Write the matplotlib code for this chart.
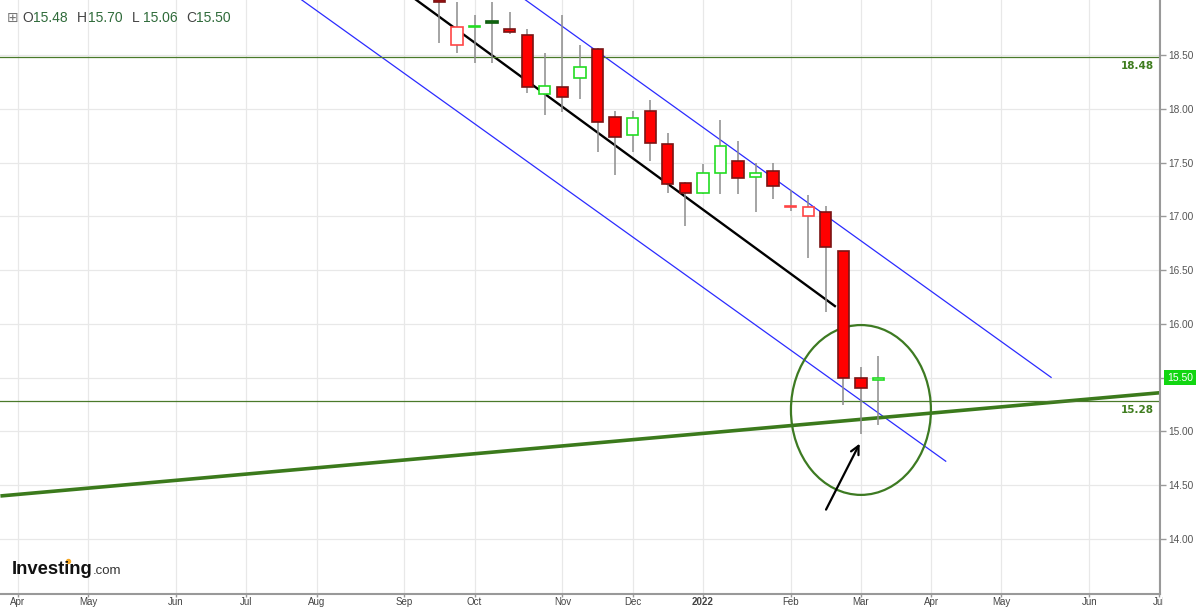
import numpy as np
import pandas as pd
import matplotlib
matplotlib.use("Agg")
import matplotlib.pyplot as plt
import matplotlib.dates as mdates
from matplotlib.patches import Ellipse, Circle
from matplotlib.transforms import Bbox, TransformedBbox, blended_transform_factory

plt.rcParams["font.family"] = ["Liberation Sans", "DejaVu Sans"]

# weekly candles (week start, Sunday)
weeks = pd.to_datetime([
    "2021-09-19", "2021-09-26", "2021-10-03", "2021-10-10", "2021-10-17",
    "2021-10-24", "2021-10-31", "2021-11-07", "2021-11-14", "2021-11-21",
    "2021-11-28", "2021-12-05", "2021-12-12", "2021-12-19", "2021-12-26",
    "2022-01-02", "2022-01-09", "2022-01-16", "2022-01-23", "2022-01-30",
    "2022-02-06", "2022-02-13", "2022-02-20", "2022-02-27", "2022-03-06",
    "2022-03-13"])
opens = [19.01, 18.60, 18.76, 18.82, 18.74, 18.69, 18.14, 18.20, 18.29, 18.56,
         17.93, 17.76, 17.98, 17.67, 17.31, 17.22, 17.40, 17.52, 17.37, 17.42,
         17.09, 17.00, 17.04, 16.68, 15.50, 15.48]
highs = [19.10, 19.00, 18.87, 19.00, 18.90, 18.74, 18.52, 18.87, 18.60, 18.57,
         17.98, 17.98, 18.08, 17.78, 17.32, 17.49, 17.90, 17.70, 17.50, 17.50,
         17.25, 17.20, 17.10, 16.68, 15.60, 15.70]
lows = [18.61, 18.52, 18.43, 18.43, 18.70, 18.15, 17.94, 17.97, 18.09, 17.60,
        17.39, 17.60, 17.52, 17.22, 16.91, 17.21, 17.21, 17.21, 17.04, 17.16,
        17.05, 16.61, 16.11, 15.25, 14.98, 15.06]
closes = [19.00, 18.76, 18.77, 18.80, 18.72, 18.20, 18.21, 18.11, 18.39, 17.88,
          17.74, 17.92, 17.68, 17.30, 17.22, 17.40, 17.66, 17.36, 17.40, 17.28,
          17.10, 17.09, 16.72, 15.50, 15.40, 15.50]
prev_close_first = 19.20

# drawn objects
black_trend = (["2021-09-03", "2022-02-24"], [19.13, 16.16])
blue_upper = (["2021-10-17", "2022-05-21"], [19.12, 15.50])
blue_lower = (["2021-07-21", "2022-04-09"], [19.10, 14.72])
green_support = (["2021-03-28", "2022-07-03"], [14.40, 15.36])
hlines = [18.48, 15.28]
circle_center = ("2022-03-06", 15.20)
circle_size = (55.8, 1.58)  # days, price
arrow_tail = ("2022-02-19 14:00", 14.25)
arrow_head = ("2022-03-06", 14.91)
last_price = 15.50

dn = mdates.date2num

fig = plt.figure(figsize=(12, 6.07), dpi=100)
ax = fig.add_axes([0, 13 / 607, 1160 / 1200, 594 / 607])
ax.set_xlim(dn(pd.Timestamp("2021-03-27 20:00")), dn(pd.Timestamp("2022-07-03 05:00")))
ax.set_ylim(13.488, 19.014)

# candles
x = dn(weeks)
o = np.array(opens)
c = np.array(closes)
prev = np.concatenate([[prev_close_first], c[:-1]])
up = c >= prev
filled = c < o
face = []
edge = []
for u, f in zip(up, filled):
    if f:
        face.append("#1a9a1a" if u else "#ff0000")
        edge.append("#0d5a0d" if u else "#7a1414")
    else:
        face.append("white")
        edge.append("#22dd22" if u else "#ff4545")
ax.vlines(x, lows, highs, color="#8c8c8c", lw=1.1, zorder=3)
height = np.maximum(np.abs(c - o), 0.012)
ax.bar(x, height, bottom=np.minimum(o, c), width=4.5, color=face,
       edgecolor=edge, linewidth=1.2, zorder=4)

# trend lines
for (d, p), col, lw in [(black_trend, "black", 1.7),
                        (blue_upper, "#2b2bff", 0.9),
                        (blue_lower, "#2b2bff", 0.9),
                        (green_support, "#3b7a1c", 2.6)]:
    ax.plot(dn(pd.to_datetime(d)), p, color=col, lw=lw, zorder=2,
            solid_capstyle="butt")

trans = blended_transform_factory(ax.transAxes, ax.transData)
for h in hlines:
    ax.axhline(h, color="#4a7a2a", lw=0.9, zorder=2)
    ax.text(0.995, h - 0.035, f"{h:.2f}", transform=trans, ha="right", va="top",
            color="#3f7d1f", fontsize=7.5, fontweight="bold",
            family="DejaVu Sans")

ell = Ellipse((dn(pd.Timestamp(circle_center[0])), circle_center[1]),
              circle_size[0], circle_size[1], fill=False,
              edgecolor="#3d7a22", lw=1.6, zorder=2)
ax.add_patch(ell)

ax.annotate("", xy=(dn(pd.Timestamp(arrow_head[0])), arrow_head[1]),
            xytext=(dn(pd.Timestamp(arrow_tail[0])), arrow_tail[1]),
            arrowprops=dict(arrowstyle="->,head_length=0.6,head_width=0.3",
                            color="black", lw=1.6), zorder=5)

# axes styling
sundays = pd.date_range("2021-04-01", "2022-07-31", freq="W-SUN")
firsts = sundays[sundays.day <= 7]
ax.set_xticks(dn(firsts))
labels = ax.set_xticklabels([str(d.year) if d.month == 1 else d.strftime("%b")
                             for d in firsts])
clip = TransformedBbox(Bbox([[0, 0], [1163 / 1200, 1]]), fig.transFigure)
for lab, d in zip(labels, firsts):
    lab.set_clip_on(True)
    lab.set_clip_box(clip)
    if d.month == 1:
        lab.set_fontweight("bold")

ax.yaxis.tick_right()
ax.set_yticks(np.arange(14.0, 18.51, 0.5))
ax.set_yticklabels([f"{v:.2f}" for v in np.arange(14.0, 18.51, 0.5)])
ax.tick_params(axis="y", direction="out", length=4, width=1, color="#999999",
               labelcolor="#555555", labelsize=7.3, pad=2)
ax.tick_params(axis="x", direction="out", length=2.5, width=1, color="#999999",
               labelcolor="#444444", labelsize=7, pad=0)
for s in ["top", "left"]:
    ax.spines[s].set_visible(False)
for s in ["right", "bottom"]:
    ax.spines[s].set_color("#999999")
    ax.spines[s].set_linewidth(1.5)
ax.grid(True, color="#e8e8e8", lw=0.9)
ax.set_axisbelow(True)

# last price tag
ax.text(1.006, last_price, f"{last_price:.2f}", transform=trans, ha="left",
        va="center", color="white", fontsize=7.5, zorder=6, clip_on=False,
        bbox=dict(boxstyle="square,pad=0.25", fc="#11d611", ec="none"))

# header
hy = (607 - 18) / 607
fig.text(7 / 1200, hy, "\u229e", color="#777777", fontsize=10, va="center",
         family="DejaVu Sans")
for xl, xv, letter, val in [(22, 33, "O", opens[-1]), (77, 88, "H", highs[-1]),
                            (132, 143, "L", lows[-1]), (186, 196, "C", closes[-1])]:
    fig.text(xl / 1200, hy, letter, color="#444444", fontsize=10, va="center")
    fig.text(xv / 1200, hy, f"{val:.2f}", color="#2f6b3a", fontsize=10, va="center")

# logo
fig.text(12 / 1200, (607 - 574) / 607, "Investing", fontsize=13.3,
         fontweight="bold", color="#111111", va="baseline")
fig.text(93 / 1200, (607 - 574) / 607, ".com", fontsize=9.5, color="#333333",
         va="baseline")
fig.add_artist(Circle((68.5 / 100, (607 - 561.5) / 100), 0.02, color="#f5a623",
                      transform=fig.dpi_scale_trans))

fig.savefig("out.png", dpi=100, facecolor="white")
